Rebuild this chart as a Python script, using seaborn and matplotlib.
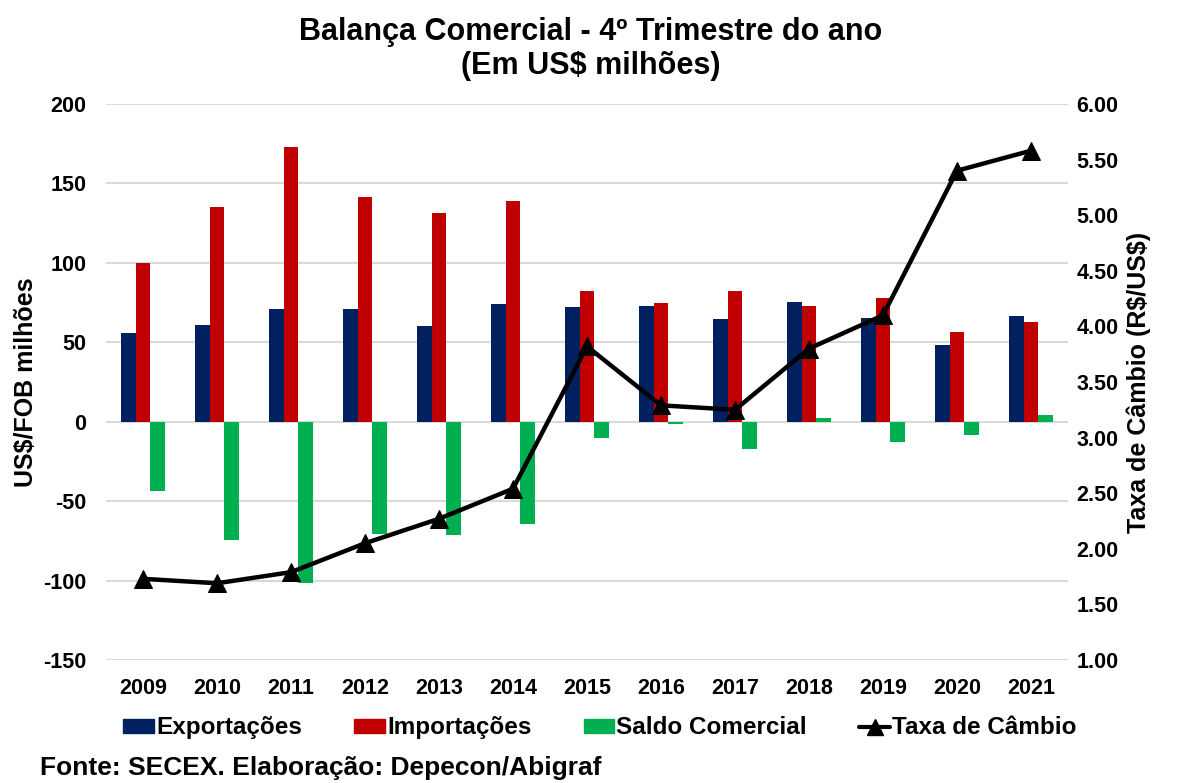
import numpy as np
import pandas as pd
import matplotlib
matplotlib.use("Agg")
import matplotlib.pyplot as plt
import seaborn as sns
from matplotlib.lines import Line2D
from matplotlib.patches import Patch

anos = ['2009', '2010', '2011', '2012', '2013', '2014', '2015',
        '2016', '2017', '2018', '2019', '2020', '2021']
exportacoes = [55.7, 60.7, 71.2, 70.8, 60.1, 74.1, 72.2, 73.1, 64.9, 75.6, 65.3, 48.1, 66.8]
importacoes = [99.7, 135.4, 173.0, 141.3, 131.4, 138.8, 82.3, 74.5, 82.3, 73.1, 77.9, 56.7, 62.6]
saldo = [-43.8, -74.7, -101.8, -70.4, -71.3, -64.5, -10.3, -1.2, -17.3, 2.5, -12.7, -8.5, 4.3]
taxa_cambio = [1.73, 1.69, 1.79, 2.05, 2.27, 2.54, 3.82, 3.29, 3.25, 3.80, 4.10, 5.40, 5.58]

series = ['Exportações', 'Importações', 'Saldo Comercial']
cores = ['#002060', '#C00000', '#00B050']

sns.set_theme(style='white')
plt.rcParams['font.family'] = ['Liberation Sans', 'DejaVu Sans']
plt.rcParams['font.weight'] = 'bold'
plt.rcParams['axes.unicode_minus'] = False
for k in ['text.color', 'axes.labelcolor', 'xtick.color', 'ytick.color']:
    plt.rcParams[k] = 'black'

df = pd.DataFrame({
    'Ano': anos * 3,
    'Valor': exportacoes + importacoes + saldo,
    'Serie': [s for s in series for _ in anos],
})

fig, ax = plt.subplots(figsize=(11.81, 7.83), dpi=100)
fig.subplots_adjust(left=0.0898, right=0.9043, top=0.8672, bottom=0.1571)

sns.barplot(data=df, x='Ano', y='Valor', hue='Serie', palette=cores,
            width=0.6, saturation=1, linewidth=0, ax=ax, legend=False)

ax.set_ylim(-150, 200)
ax.set_yticks(range(-150, 201, 50))
ax.set_xlim(-0.5, len(anos) - 0.5)
ax.grid(axis='y', color='#D9D9D9', linewidth=1.5)
ax.set_axisbelow(True)
for s in ax.spines.values():
    s.set_visible(False)
ax.tick_params(axis='y', length=0, labelsize=15.5, pad=14)
ax.tick_params(axis='x', length=0, labelsize=15.5, pad=13)
ax.set_xlabel('')
ax.set_ylabel('US$/FOB milhões', fontsize=18, fontweight='bold', labelpad=4)
for lab in ax.get_xticklabels() + ax.get_yticklabels():
    lab.set_fontweight('bold')

ax2 = ax.twinx()
sns.lineplot(x=np.arange(len(anos)), y=taxa_cambio, ax=ax2, color='black',
             linewidth=3.2, marker='^', markersize=13, markeredgecolor='black')
ax2.set_ylim(1.0, 6.0)
ax2.set_yticks(np.arange(1.0, 6.01, 0.5))
ax2.set_yticklabels([f'{v:.2f}' for v in np.arange(1.0, 6.01, 0.5)])
for s in ax2.spines.values():
    s.set_visible(False)
ax2.tick_params(axis='y', length=0, labelsize=15.5, pad=6)
ax2.set_ylabel(r'Taxa de Câmbio (R\$/US\$)', fontsize=18, fontweight='bold', labelpad=6)
for lab in ax2.get_yticklabels():
    lab.set_fontweight('bold')
ax2.grid(False)

fig.suptitle('Balança Comercial - 4º Trimestre do ano\n(Em US$ milhões)',
             fontsize=22, fontweight='bold', x=0.5, y=0.978, va='top', linespacing=1.15)

handles = [Patch(color=c, label=s) for c, s in zip(cores, series)]
handles.append(Line2D([0], [0], color='black', linewidth=3, marker='^',
                      markersize=12, label='Taxa de Câmbio'))
fig.legend(handles=handles, loc='center', bbox_to_anchor=(0.508, 0.0705), ncol=4,
           frameon=False, prop={'size': 17.5, 'weight': 'bold'},
           handlelength=1.25, handleheight=0.5, handletextpad=0.1, columnspacing=2.15)

fig.text(0.034, 0.004, 'Fonte: SECEX. Elaboração: Depecon/Abigraf',
         fontsize=19, fontweight='bold', ha='left', va='bottom')

fig.savefig('out.png', dpi=100)
